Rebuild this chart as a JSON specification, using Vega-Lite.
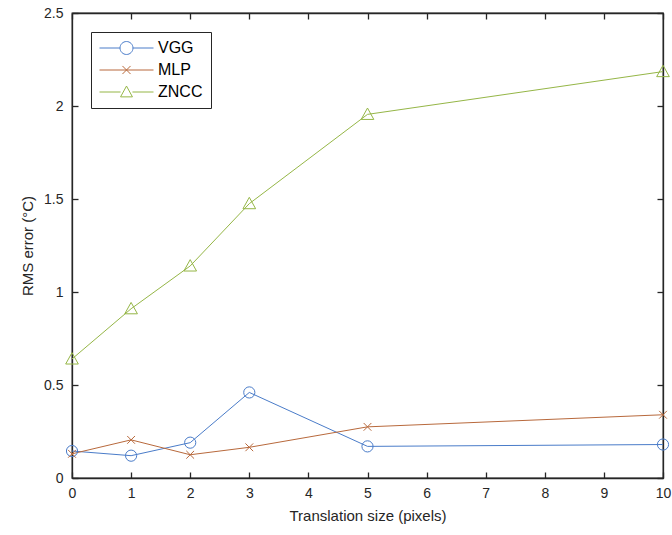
{
  "$schema": "https://vega.github.io/schema/vega-lite/v6.json",
  "width": 591,
  "height": 465,
  "autosize": {"type": "none"},
  "padding": {"left": 72, "top": 13, "right": 9, "bottom": 57},
  "background": "white",
  "config": {
    "view": {"stroke": "#262626", "strokeWidth": 1.3},
    "font": "Liberation Sans",
    "axis": {
      "grid": false,
      "domainColor": "#262626",
      "domainWidth": 1.3,
      "tickColor": "#262626",
      "tickWidth": 1.3,
      "tickSize": -6,
      "labelFlush": false,
      "labelFont": "Liberation Sans",
      "labelFontSize": 14,
      "labelColor": "#262626",
      "titleFont": "Liberation Sans",
      "titleFontSize": 15,
      "titleFontWeight": "normal",
      "titleColor": "#262626"
    }
  },
  "data": {
    "values": [
      {"x": 0, "y": 0.145, "s": "VGG"},
      {"x": 1, "y": 0.12, "s": "VGG"},
      {"x": 2, "y": 0.19, "s": "VGG"},
      {"x": 3, "y": 0.46, "s": "VGG"},
      {"x": 5, "y": 0.17, "s": "VGG"},
      {"x": 10, "y": 0.18, "s": "VGG"},
      {"x": 0, "y": 0.13, "s": "MLP"},
      {"x": 1, "y": 0.205, "s": "MLP"},
      {"x": 2, "y": 0.125, "s": "MLP"},
      {"x": 3, "y": 0.165, "s": "MLP"},
      {"x": 5, "y": 0.275, "s": "MLP"},
      {"x": 10, "y": 0.34, "s": "MLP"},
      {"x": 0, "y": 0.64, "s": "ZNCC"},
      {"x": 1, "y": 0.91, "s": "ZNCC"},
      {"x": 2, "y": 1.14, "s": "ZNCC"},
      {"x": 3, "y": 1.475, "s": "ZNCC"},
      {"x": 5, "y": 1.955, "s": "ZNCC"},
      {"x": 10, "y": 2.185, "s": "ZNCC"}
    ]
  },
  "resolve": {"axis": {"x": "independent", "y": "independent"}},
  "layer": [
    {
      "mark": {"type": "point", "filled": false, "opacity": 0, "strokeWidth": 1},
      "encoding": {
        "x": {"field": "x", "type": "quantitative", "scale": {"domain": [0, 10], "nice": false, "zero": false},
              "axis": {"orient": "bottom", "values": [0,1,2,3,4,5,6,7,8,9,10], "title": "Translation size (pixels)", "labelPadding": 14, "titlePadding": 8}},
        "y": {"field": "y", "type": "quantitative", "scale": {"domain": [0, 2.5], "nice": false, "zero": false},
              "axis": {"orient": "left", "values": [0,0.5,1,1.5,2,2.5], "format": ".1~f", "title": "RMS error (°C)", "labelPadding": 15, "titlePadding": 8}},
        "color": {"field": "s", "type": "nominal", "scale": {"domain": ["VGG","MLP","ZNCC"], "range": ["#4a7cc9","#b8693c","#95b646"]},
          "legend": {"title": null, "orient": "none", "legendX": 19, "legendY": 19, "symbolSize": 2916, "symbolOpacity": 1, "symbolStrokeWidth": 1,
                     "symbolFillColor": "transparent", "clipHeight": 16,
                     "labelFont": "Liberation Sans", "labelFontSize": 16, "labelColor": "#000000", "labelOffset": 4, "rowPadding": 6,
                     "padding": 8, "strokeColor": "#262626", "fillColor": "white", "cornerRadius": 0}},
        "shape": {"field": "s", "type": "nominal",
          "scale": {"domain": ["VGG","MLP","ZNCC"], "range": [
            "M-1,0H-0.24M0.24,0H1M-0.24,0A0.24,0.24 0 1,0 0.24,0A0.24,0.24 0 1,0 -0.24,0",
            "M-1,0H1M-0.15,-0.15L0.15,0.15M-0.15,0.15L0.15,-0.15",
            "M-1,0H-0.22M0.22,0H1M-0.22,0.18L0,-0.22L0.22,0.18Z"
          ]},
          "legend": {"title": null, "orient": "none", "legendX": 19, "legendY": 19, "symbolSize": 2916, "symbolOpacity": 1, "symbolStrokeWidth": 1,
                     "symbolFillColor": "transparent", "clipHeight": 16,
                     "labelFont": "Liberation Sans", "labelFontSize": 16, "labelColor": "#000000", "labelOffset": 4, "rowPadding": 6,
                     "padding": 8, "strokeColor": "#262626", "fillColor": "white", "cornerRadius": 0}}
      }
    },
    {
      "mark": {"type": "line", "strokeWidth": 1},
      "encoding": {
        "x": {"field": "x", "type": "quantitative", "axis": {"orient": "top", "values": [0,1,2,3,4,5,6,7,8,9,10], "labels": false, "title": null}},
        "y": {"field": "y", "type": "quantitative", "axis": {"orient": "right", "values": [0,0.5,1,1.5,2,2.5], "labels": false, "title": null}},
        "color": {"field": "s", "type": "nominal"}
      }
    },
    {
      "transform": [{"filter": "datum.s === 'VGG'"}],
      "mark": {"type": "point", "shape": "circle", "size": 125, "strokeWidth": 1, "filled": false, "opacity": 1},
      "encoding": {
        "x": {"field": "x", "type": "quantitative", "axis": null},
        "y": {"field": "y", "type": "quantitative", "axis": null},
        "color": {"field": "s", "type": "nominal"}
      }
    },
    {
      "transform": [{"filter": "datum.s === 'MLP'"}],
      "mark": {"type": "point", "shape": "M-1,-1L1,1M-1,1L1,-1", "size": 60, "strokeWidth": 1, "filled": false, "opacity": 1},
      "encoding": {
        "x": {"field": "x", "type": "quantitative", "axis": null},
        "y": {"field": "y", "type": "quantitative", "axis": null},
        "color": {"field": "s", "type": "nominal"}
      }
    },
    {
      "transform": [{"filter": "datum.s === 'ZNCC'"}],
      "mark": {"type": "point", "shape": "M-1,0.8L0,-1L1,0.8Z", "size": 160, "strokeWidth": 1, "filled": false, "opacity": 1},
      "encoding": {
        "x": {"field": "x", "type": "quantitative", "axis": null},
        "y": {"field": "y", "type": "quantitative", "axis": null},
        "color": {"field": "s", "type": "nominal"}
      }
    }
  ]
}
